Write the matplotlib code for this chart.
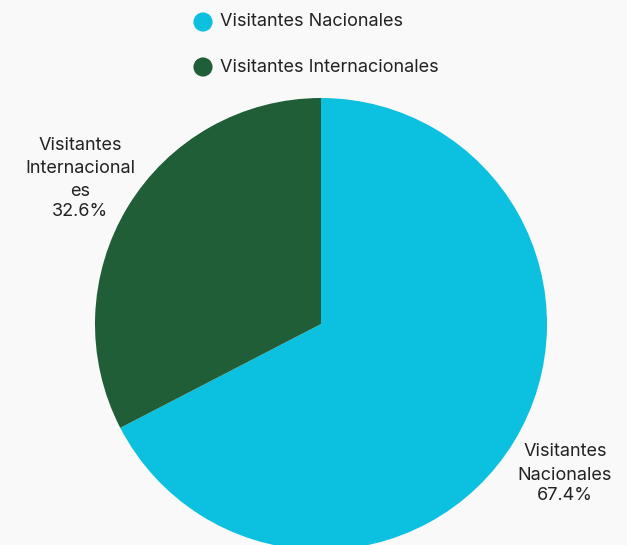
import matplotlib
matplotlib.use('Agg')
import matplotlib.pyplot as plt

labels = ['Visitantes Nacionales', 'Visitantes Internacionales']
values = [67.4, 32.6]
colors = ['#0cc0e0', '#1f5e37']
slice_names = [['Visitantes', 'Nacionales'], ['Visitantes', 'Internacional', 'es']]
slice_pcts = ['67.4%', '32.6%']

plt.rcParams['font.family'] = ['Inter', 'DejaVu Sans']

fig = plt.figure(figsize=(6.27, 5.45), dpi=100)
fig.patch.set_facecolor('#f9f9f9')
ax = fig.add_axes([0, 0, 1, 1])

# pie drawn in pixel coordinates
ax.pie(values, colors=colors, startangle=90, counterclock=False,
       center=(321, 221), radius=226, frame=True,
       wedgeprops={'linewidth': 0})
ax.set_xlim(0, 627)
ax.set_ylim(0, 545)
ax.set_aspect('equal')
ax.axis('off')

# slice labels (wrapped names, then percentage)
label_pos = [(565, 452), (80, 145)]
for (x, y0), names, pct in zip(label_pos, slice_names, slice_pcts):
    y = y0
    for n in names:
        ax.text(x, 545 - y, n, ha='center', va='center', fontsize=13, color='#222222')
        y += 23.5
    ax.text(x, 545 - (y - 4), pct, ha='center', va='center', fontsize=13, color='#222222')

# legend
for i, lab in enumerate(labels):
    y = 545 - 22 - i * 45
    ax.scatter([203], [y], s=190, color=colors[i], edgecolors='none')
    ax.text(220, y, lab, ha='left', va='center', fontsize=13, color='#222222')

fig.savefig('out.png', dpi=100, facecolor=fig.get_facecolor())
